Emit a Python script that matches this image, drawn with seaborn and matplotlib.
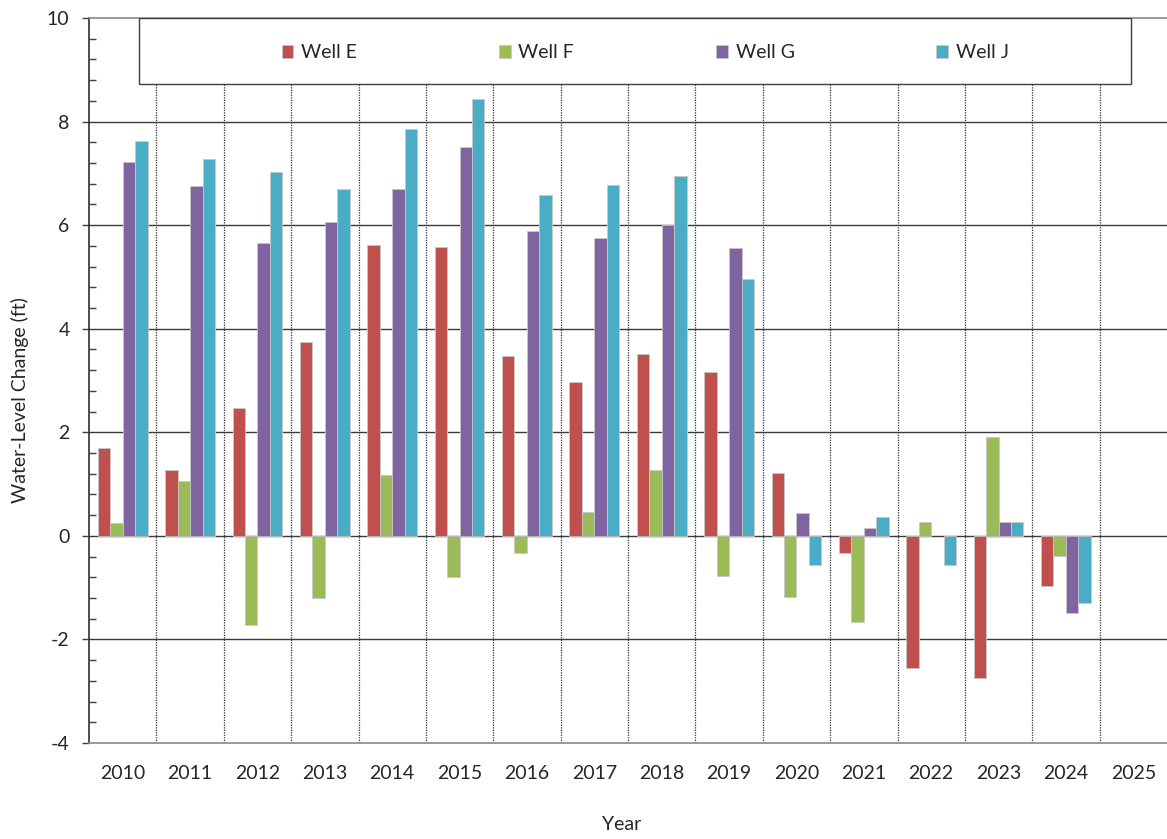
import numpy as np
import pandas as pd
import matplotlib
matplotlib.use("Agg")
import matplotlib.pyplot as plt
from matplotlib.patches import Rectangle, Patch
from matplotlib.ticker import MultipleLocator
import seaborn as sns

years = [str(y) for y in range(2010, 2026)]
wells = ["Well E", "Well F", "Well G", "Well J"]

well_e = [1.69, 1.27, 2.46, 3.74, 5.61, 5.57, 3.48, 2.97, 3.51, 3.16, 1.21, -0.34, -2.56, -2.75, -0.97, np.nan]
well_f = [0.25, 1.05, -1.73, -1.20, 1.18, -0.79, -0.33, 0.46, 1.27, -0.78, -1.18, -1.66, 0.26, 1.91, -0.39, np.nan]
well_g = [7.21, 6.75, 5.66, 6.06, 6.69, 7.51, 5.88, 5.75, 6.00, 5.56, 0.44, 0.15, np.nan, 0.26, -1.48, np.nan]
well_j = [7.62, 7.28, 7.02, 6.69, 7.85, 8.43, 6.59, 6.78, 6.95, 4.96, -0.56, 0.36, -0.56, 0.26, -1.29, np.nan]

colors = ["#C0504D", "#9BBB59", "#8064A2", "#4BACC6"]

df = pd.DataFrame({"Year": years, "Well E": well_e, "Well F": well_f,
                   "Well G": well_g, "Well J": well_j})
long = df.melt(id_vars="Year", var_name="Well", value_name="Change")

sns.set_style("white")
plt.rcParams["font.family"] = ["Lato", "DejaVu Sans"]

fig = plt.figure(figsize=(11.67, 8.39), dpi=100)
ax = fig.add_axes([89 / 1167, 1 - 743 / 839, 1 - 89 / 1167, (743 - 18) / 839])

sns.barplot(data=long, x="Year", y="Change", hue="Well", order=years,
            hue_order=wells, palette=colors, saturation=1, width=0.74,
            gap=0, edgecolor="#c8c8c8", linewidth=0.6, legend=False, ax=ax)

ax.set_xlim(-0.5, len(years) - 0.5)
ax.set_ylim(-4, 10)
ax.set_axisbelow(True)

# horizontal grid and category separators
for yv in range(-2, 10, 2):
    ax.axhline(yv, color="#3a3a3a", lw=1.0, zorder=0.6)
for i in range(len(years) - 1):
    ax.axvline(i + 0.5, color="#333333", lw=0.9, ls=(0, (1.0, 1.0)), zorder=0.5)

ax.yaxis.set_major_locator(MultipleLocator(2))
ax.yaxis.set_minor_locator(MultipleLocator(0.4))
ax.tick_params(axis="y", which="major", direction="out", length=5, width=1,
               color="#404040", labelsize=14, pad=9, left=True)
ax.tick_params(axis="y", which="minor", direction="in", length=5, width=1,
               color="#404040", left=True)
ax.tick_params(axis="x", length=0, labelsize=14, pad=16)
ax.set_yticks(range(-4, 11, 2))
ax.set_yticklabels([str(v) for v in range(-4, 11, 2)])

ax.spines["right"].set_visible(False)
ax.spines["left"].set_color("#303030")
ax.spines["top"].set_color("#8a8a8a")
ax.spines["bottom"].set_color("#8a8a8a")
for s in ax.spines.values():
    s.set_linewidth(1.2)

ax.set_xlabel("Year", fontsize=14)
ax.set_ylabel("Water-Level Change (ft)", fontsize=14)
ax.xaxis.set_label_coords(0.494, -0.101)
ax.yaxis.set_label_coords(-0.056, 0.473)

# legend panel across the top
box = Rectangle((0.046, 0.909), 0.921, 0.091, transform=ax.transAxes,
                facecolor="white", edgecolor="#404040", lw=1.0, zorder=3)
ax.add_patch(box)
handles = [Patch(facecolor=c, edgecolor="#c8c8c8", lw=0.6) for c in colors]
leg = ax.legend(handles, wells, loc="center", bbox_to_anchor=(0.516, 0.952),
                ncol=4, frameon=False, fontsize=14, handlelength=0.6,
                handleheight=0.6, handletextpad=0.4, columnspacing=7.3,
                borderaxespad=0)
leg.set_zorder(4)

fig.savefig("out.png", dpi=100)
